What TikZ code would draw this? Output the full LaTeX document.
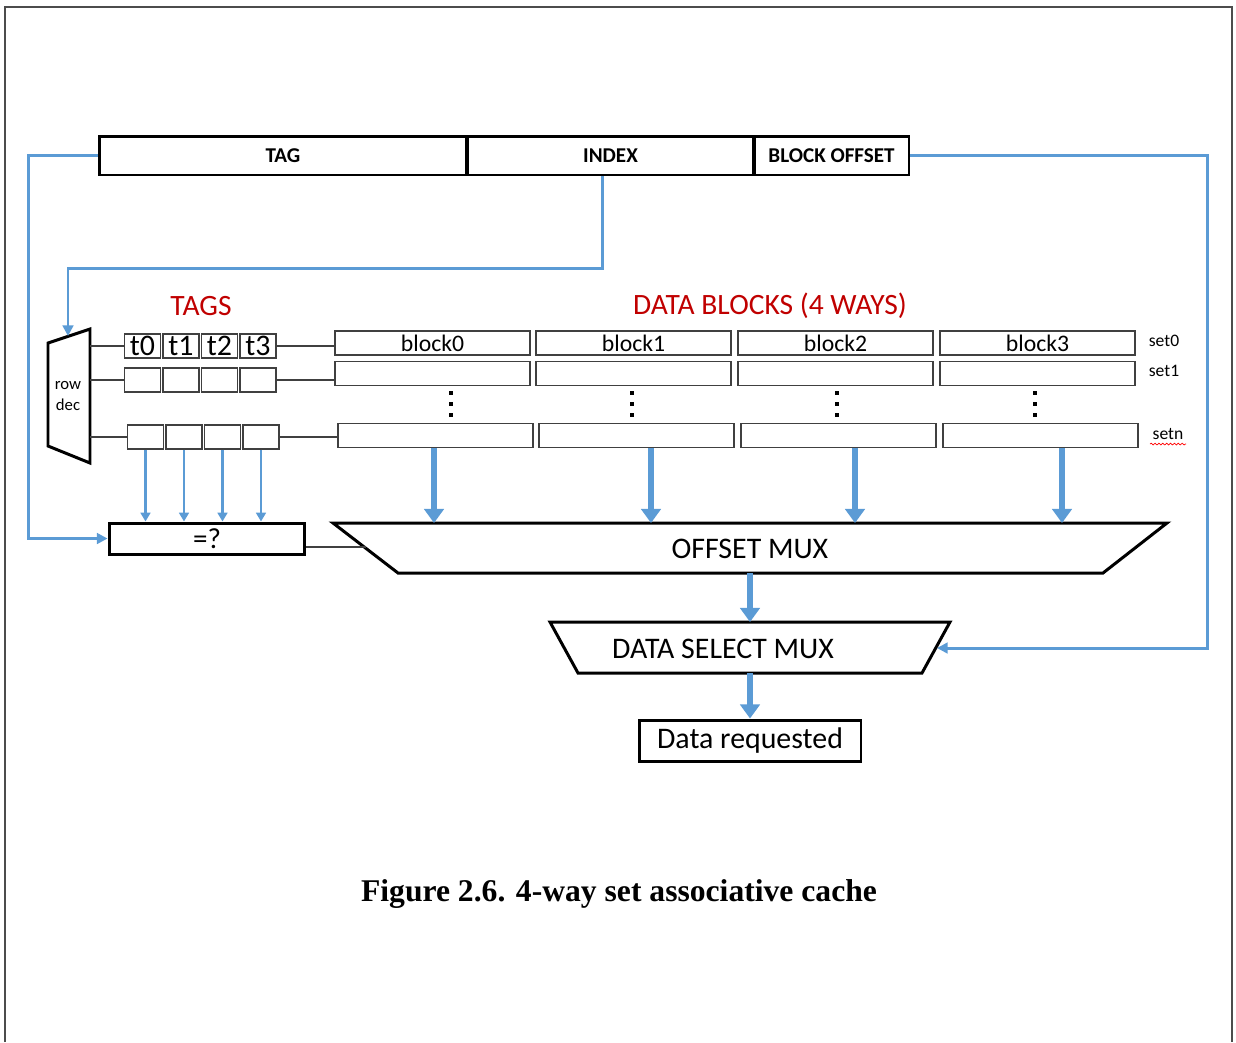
\documentclass[tikz,border=0pt]{standalone}
\usepackage{fontspec}
\setmainfont{Carlito}
\newfontfamily\capfont{Liberation Serif}
\usetikzlibrary{arrows.meta,decorations.pathmorphing}
\definecolor{wireblue}{RGB}{91,155,213}
\definecolor{labelred}{RGB}{192,0,0}
\definecolor{cellgray}{RGB}{64,64,64}

\begin{document}
\begin{tikzpicture}[x=0.02cm,y=-0.02cm,
  field/.style={draw=black,line width=1.7pt,minimum height=0.78cm,inner sep=0pt,font=\fontsize{12}{14}\selectfont\bfseries},
  cell/.style={draw=cellgray,line width=0.8pt,minimum height=0.48cm,inner sep=0pt},
  tagcell/.style={cell,minimum width=0.72cm,font=\fontsize{17}{17}\selectfont},
  blockcell/.style={cell,minimum width=3.9cm,font=\fontsize{13.5}{14}\selectfont},
  bigbox/.style={draw=black,line width=1.7pt,inner sep=0pt},
  muxline/.style={line width=1.7pt,line join=miter},
  muxtext/.style={font=\fontsize{17}{17}\selectfont},
  wire/.style={wireblue,line width=1.7pt},
  thinarrow/.style={wireblue,line width=1.5pt,-{Triangle[width=5.5pt,length=5pt]}},
  fatarrow/.style={wireblue,line width=3.6pt,-{Triangle[width=11pt,length=8pt]}},
  title/.style={labelred,font=\fontsize{16.8}{17}\selectfont},
  setlabel/.style={font=\fontsize{10}{11}\selectfont},
  link/.style={draw=cellgray,line width=0.8pt}]

  \useasboundingbox (0,0) rectangle (1236,1042);
  \draw[black!70,line width=1.1pt] (5,1042) -- (5,7) -- (1232,7) -- (1232,1042);

  % address fields
  \node[field,minimum width=7.36cm] (tag) at (283,155.5) {TAG};
  \node[field,minimum width=5.74cm] (index) at (610.5,155.5) {INDEX};
  \node[field,minimum width=3.1cm] (offset) at (831.5,155.5) {BLOCK OFFSET};

  \node[title] (tagstitle) at (201,306) {TAGS};
  \node[title] (blockstitle) at (770,306) {DATA BLOCKS (4 WAYS)};

  % row decoder
  \draw[muxline] (48,343) -- (90,329) -- (90,463) -- (48,446) -- cycle;
  \node[font=\fontsize{9.5}{12}\selectfont,align=center] (rowdec) at (68,396) {row\\dec};
  \coordinate (decin) at (68,336);
  \coordinate (dec0) at (90,346);
  \coordinate (dec1) at (90,380);
  \coordinate (decn) at (90,437);

  \foreach \i/\x in {0/142.5,1/181,2/219.5,3/258}{
    \node[tagcell] (tag0\i) at (\x,346) {t\i};
    \node[tagcell] (tag1\i) at (\x,380) {};
    \node[tagcell] (tagn\i) at (\x+3,437) {};
  }
  \foreach \j/\x in {0/432.5,1/633.5,2/835.5,3/1037.5}{
    \node[blockcell] (blk0\j) at (\x,343) {block\j};
    \node[blockcell] (blk1\j) at (\x,373.5) {};
    \node[blockcell] (blkn\j) at (\x+3,435.5) {};
  }
  \foreach \x in {451,632,837,1035}
    \foreach \y in {393,404,415}
      \fill (\x-2.2,\y-2.2) rectangle (\x+2.2,\y+2.2);

  \node[setlabel] (set0) at (1164,341) {set0};
  \node[setlabel] (set1) at (1164,371) {set1};
  \node[setlabel] (setn) at (1168,434) {setn};
  \draw[red,line width=0.4pt,decorate,decoration={snake,amplitude=0.5pt,segment length=2.2pt}]
    ([xshift=2pt,yshift=1pt]setn.south west) -- ([xshift=-2pt,yshift=1pt]setn.south east);

  \draw[link] (dec0) -- (tag00);
  \draw[link] (dec1) -- (tag10);
  \draw[link] (decn) -- (tagn0);
  \draw[link] (tag03) -- (tag03 -| blk00.west);
  \draw[link] (tag13) -- (tag13 -| blk10.west);
  \draw[link] (tagn3) -- (tagn3 -| blkn0.west);

  % compare and muxes
  \node[bigbox,minimum width=3.92cm,minimum height=0.62cm,font=\fontsize{16.5}{17}\selectfont] (cmp) at (207,538.5) {=?};

  \draw[muxline] (333,523) -- (1167,523) -- (1103,573) -- (398,573) -- cycle;
  \node[muxtext] (omux) at (750,549) {OFFSET MUX};
  \coordinate (omuxtop) at (750,523);
  \coordinate (omuxbot) at (750,573);
  \coordinate (omuxin) at (365.5,547);

  \draw[muxline] (550,622) -- (950,622) -- (922,673) -- (578,673) -- cycle;
  \node[muxtext] (dsmux) at (723,649) {DATA SELECT MUX};
  \coordinate (dstop) at (750,622);
  \coordinate (dsbot) at (750,673);
  \coordinate (dsin) at (937,648);

  \node[bigbox,minimum width=4.44cm,minimum height=0.82cm,font=\fontsize{17}{17}\selectfont] (result) at (750,740.5) {Data requested};

  \foreach \i in {0,...,3}
    \draw[thinarrow] (tagn\i) -- (tagn\i |- cmp.north);
  \foreach \j/\dx in {0/-0.03cm,1/0.29cm,2/0.33cm,3/0.43cm}
    \draw[fatarrow] ([xshift=\dx]blkn\j.south) -- ([xshift=\dx]blkn\j.south |- omuxtop);
  \draw[link] (cmp.east |- omuxin) -- (omuxin);
  \draw[fatarrow] (omuxbot) -- (dstop);
  \draw[fatarrow] (dsbot) -- (result);

  % address wires
  \draw[wire,-{Triangle[width=6pt,length=6pt]}] (tag.west) -- ++(-69,0) |- (cmp.west);
  \draw[wire,-{Triangle[width=6pt,length=6pt]}] ([xshift=-0.17cm]index.south) -- ++(0,92) -| (decin);
  \draw[wire,-{Triangle[width=6pt,length=6pt]}] (offset.east) -- ++(297,0) |- (dsin);

  \node[font=\capfont\fontsize{18}{20}\selectfont\bfseries] (caption) at (619,894) {Figure 2.6. 4-way set associative cache};
\end{tikzpicture}
\end{document}
